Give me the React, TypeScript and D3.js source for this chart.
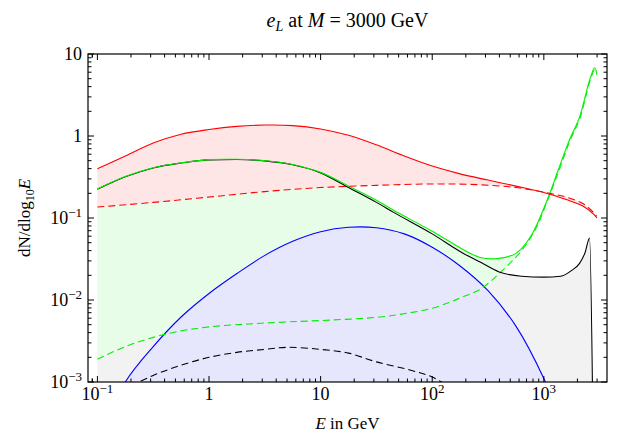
import React from 'react';
import * as d3 from 'd3';

const W = 618;
const H = 441;
const PLOT = { left: 88, right: 607, top: 54, bottom: 382 };

// log10(E/GeV) grids and dN/dlog10E values
const redSolidLogE = [-1, -0.75, -0.5, -0.25, 0, 0.25, 0.5, 0.75, 1.0, 1.25, 1.5, 1.75, 2.0, 2.25, 2.5, 2.75, 3.0, 3.2, 3.35, 3.45, 3.475];
const redSolidVal = [0.4, 0.57, 0.82, 1.05, 1.2, 1.31, 1.36, 1.34, 1.22, 1.02, 0.78, 0.57, 0.43, 0.345, 0.29, 0.245, 0.205, 0.168, 0.14, 0.11, 0.1];

const redDashedLogE = [-1, -0.5, 0, 0.5, 1.0, 1.5, 2.0, 2.4, 2.75, 3.05, 3.2, 3.35, 3.45, 3.475];
const redDashedVal = [0.136, 0.155, 0.18, 0.21, 0.235, 0.25, 0.26, 0.255, 0.235, 0.2, 0.18, 0.15, 0.115, 0.105];

const greenSolidLogE = [-1, -0.75, -0.5, -0.25, 0, 0.25, 0.5, 0.75, 1.0, 1.25, 1.5, 1.65, 2.0, 2.28, 2.43, 2.58, 2.75, 2.88, 3.03, 3.13, 3.23, 3.32, 3.41, 3.455, 3.475];
const greenSolidVal = [0.226, 0.32, 0.41, 0.47, 0.515, 0.52, 0.5, 0.45, 0.36, 0.245, 0.165, 0.125, 0.069, 0.041, 0.033, 0.032, 0.037, 0.059, 0.166, 0.39, 0.9, 1.7, 4.8, 6.8, 5.8];

const greenDashedLogE = [-1, -0.75, -0.5, -0.25, 0, 0.35, 0.7, 1.1, 1.53, 1.8, 1.98, 2.15, 2.28, 2.43, 2.63, 2.8, 2.93, 3.03, 3.13, 3.23, 3.32, 3.41, 3.455, 3.475];
const greenDashedVal = [0.0019, 0.0027, 0.0035, 0.0042, 0.0047, 0.0051, 0.0054, 0.0057, 0.0062, 0.007, 0.0078, 0.0093, 0.011, 0.0135, 0.023, 0.04, 0.075, 0.16, 0.36, 0.85, 1.6, 4.5, 6.4, 5.6];

const blackSolidLogE = [-1, -0.75, -0.5, -0.25, 0, 0.25, 0.5, 0.75, 1.0, 1.25, 1.5, 1.65, 2.0, 2.28, 2.43, 2.6, 2.8, 3.0, 3.15, 3.25, 3.32, 3.37, 3.41, 3.44];
const blackSolidVal = [0.224, 0.318, 0.408, 0.468, 0.512, 0.518, 0.497, 0.445, 0.355, 0.235, 0.155, 0.118, 0.064, 0.037, 0.029, 0.022, 0.0195, 0.019, 0.0195, 0.023, 0.028, 0.038, 0.057, 0.0003];

const blackDashedLogE = [-1, -0.75, -0.5, -0.25, 0, 0.25, 0.5, 0.7, 1.0, 1.25, 1.5, 1.8, 2.0, 2.2, 2.5, 3.0, 3.44];
const blackDashedVal = [0.0004, 0.0008, 0.0012, 0.0016, 0.002, 0.0023, 0.0025, 0.00265, 0.0025, 0.00225, 0.00176, 0.0014, 0.00115, 0.0008, 0.0005, 0.0002, 0.0001];

const blueSolidLogE = [-1, -0.75, -0.5, -0.25, 0, 0.25, 0.5, 0.75, 1.0, 1.25, 1.5, 1.75, 2.0, 2.25, 2.5, 2.75, 3.0, 3.1];
const blueSolidVal = [0.0002, 0.001, 0.0027, 0.0062, 0.012, 0.021, 0.035, 0.052, 0.068, 0.077, 0.076, 0.064, 0.044, 0.026, 0.013, 0.0048, 0.0011, 0.0005];

const xMajorTicks = [0.1, 1, 10, 100, 1000];
const xMajorLabels = [['10', '−1'], ['1', ''], ['10', ''], ['10', '2'], ['10', '3']];
const yMajorTicks = [0.001, 0.01, 0.1, 1, 10];
const yMajorLabels = [['10', '−3'], ['10', '−2'], ['10', '−1'], ['1', ''], ['10', '']];

const FONT = "'Liberation Serif', 'Times New Roman', serif";

export default function App() {
  const x = d3.scaleLog().domain([Math.pow(10, -1.0842), Math.pow(10, 3.566)]).range([PLOT.left, PLOT.right]);
  const y = d3.scaleLog().domain([1e-3, 10]).range([PLOT.bottom, PLOT.top]);
  const smooth = d3.line<[number, number]>().curve(d3.curveCatmullRom.alpha(0.5));
  const mono = d3.line<[number, number]>().curve(d3.curveMonotoneX);
  const straight = d3.line<[number, number]>();

  const pts = (ls: number[], vs: number[]): [number, number][] =>
    ls.map((l, i) => [x(Math.pow(10, l)), y(vs[i])] as [number, number]);

  const band = (a: [number, number][], ga: any, b: [number, number][], gb: any) => {
    const d1 = ga(a) || '';
    const d2 = (gb([...b].reverse()) || '').replace(/^M/, 'L');
    return d1 + d2 + 'Z';
  };

  const red = pts(redSolidLogE, redSolidVal);
  const redD = pts(redDashedLogE, redDashedVal);
  const green = pts(greenSolidLogE, greenSolidVal);
  const greenD = pts(greenDashedLogE, greenDashedVal);
  const black = pts(blackSolidLogE, blackSolidVal);
  const blackD = pts(blackDashedLogE, blackDashedVal);
  const blue = pts(blueSolidLogE, blueSolidVal);
  const blueBottom: [number, number][] = [
    [blue[0][0], PLOT.bottom + 20],
    [blue[blue.length - 1][0], PLOT.bottom + 20],
  ];

  const xMinor: number[] = [];
  for (let p = -2; p <= 3; p++) {
    for (let k = 2; k <= 9; k++) {
      const v = k * Math.pow(10, p);
      if (v >= x.domain()[0] && v <= x.domain()[1]) xMinor.push(v);
    }
  }
  xMinor.push(0.09);
  const yMinor: number[] = [];
  for (let p = -3; p <= 0; p++) {
    for (let k = 2; k <= 9; k++) yMinor.push(k * Math.pow(10, p));
  }

  const majL = 6;
  const minL = 3.5;
  const GREEN = '#00f000';

  return (
    <svg width={W} height={H} style={{ position: 'absolute', left: 0, top: 0, background: '#fff' }}>
      <defs>
        <clipPath id="plotclip">
          <rect x={PLOT.left} y={PLOT.top} width={PLOT.right - PLOT.left} height={PLOT.bottom - PLOT.top} />
        </clipPath>
      </defs>
      <rect x={0} y={0} width={W} height={H} fill="#fff" />
      <g clipPath="url(#plotclip)">
        <path d={band(black, mono, blackD, smooth)} fill="#f2f2f2" stroke="none" />
        <path d={band(green, smooth, greenD, smooth)} fill="#e8fde8" stroke="none" />
        <path d={band(blue, smooth, blueBottom, straight)} fill="#e6e6fc" stroke="none" />
        <path d={band(red, smooth, redD, smooth)} fill="#ffe6e6" stroke="none" />

        <path d={smooth(blackD) || ''} fill="none" stroke="#000" strokeWidth={1.1} strokeDasharray="7,4" />
        <path d={smooth(blue) || ''} fill="none" stroke="#0000ff" strokeWidth={1.1} />
        <path d={smooth(greenD) || ''} fill="none" stroke={GREEN} strokeWidth={1.1} strokeDasharray="7,4" />
        <path d={mono(black) || ''} fill="none" stroke="#000" strokeWidth={1.1} />
        <path d={smooth(green) || ''} fill="none" stroke={GREEN} strokeWidth={1.1} />
        <path d={smooth(redD) || ''} fill="none" stroke="#ff0000" strokeWidth={1.1} strokeDasharray="7,4" />
        <path d={smooth(red) || ''} fill="none" stroke="#ff0000" strokeWidth={1.1} />
      </g>

      {/* frame */}
      <rect x={PLOT.left} y={PLOT.top} width={PLOT.right - PLOT.left} height={PLOT.bottom - PLOT.top}
        fill="none" stroke="#000" strokeWidth={1.2} />

      {/* x ticks */}
      {xMajorTicks.map((t, i) => (
        <g key={'xM' + i}>
          <line x1={x(t)} x2={x(t)} y1={PLOT.bottom} y2={PLOT.bottom - majL} stroke="#000" />
          <line x1={x(t)} x2={x(t)} y1={PLOT.top} y2={PLOT.top + majL} stroke="#000" />
        </g>
      ))}
      {xMinor.map((t, i) => (
        <g key={'xm' + i}>
          <line x1={x(t)} x2={x(t)} y1={PLOT.bottom} y2={PLOT.bottom - minL} stroke="#000" />
          <line x1={x(t)} x2={x(t)} y1={PLOT.top} y2={PLOT.top + minL} stroke="#000" />
        </g>
      ))}
      {/* y ticks */}
      {yMajorTicks.map((t, i) => (
        <g key={'yM' + i}>
          <line x1={PLOT.left} x2={PLOT.left + majL} y1={y(t)} y2={y(t)} stroke="#000" />
          <line x1={PLOT.right} x2={PLOT.right - majL} y1={y(t)} y2={y(t)} stroke="#000" />
        </g>
      ))}
      {yMinor.map((t, i) => (
        <g key={'ym' + i}>
          <line x1={PLOT.left} x2={PLOT.left + minL} y1={y(t)} y2={y(t)} stroke="#000" />
          <line x1={PLOT.right} x2={PLOT.right - minL} y1={y(t)} y2={y(t)} stroke="#000" />
        </g>
      ))}

      {/* x tick labels */}
      {xMajorTicks.map((t, i) => (
        <text key={'xl' + i} x={x(t)} y={400} textAnchor="middle" fontFamily={FONT} fontSize={18} fill="#000">
          <tspan>{xMajorLabels[i][0]}</tspan>
          {xMajorLabels[i][1] && (
            <tspan fontSize={13} dy={-7}>{xMajorLabels[i][1]}</tspan>
          )}
        </text>
      ))}
      {/* y tick labels */}
      {yMajorTicks.map((t, i) => (
        <text key={'yl' + i} x={82} y={y(t) + 6} textAnchor="end" fontFamily={FONT} fontSize={18} fill="#000">
          <tspan>{yMajorLabels[i][0]}</tspan>
          {yMajorLabels[i][1] && (
            <tspan fontSize={13} dy={-7}>{yMajorLabels[i][1]}</tspan>
          )}
        </text>
      ))}

      {/* title */}
      <text x={(PLOT.left + PLOT.right) / 2} y={27} textAnchor="middle" fontFamily={FONT} fontSize={20} fill="#000">
        <tspan fontStyle="italic">e</tspan>
        <tspan fontStyle="italic" fontSize={14} dy={4}>L</tspan>
        <tspan dy={-4}> at </tspan>
        <tspan fontStyle="italic">M</tspan>
        <tspan> = 3000 GeV</tspan>
      </text>

      {/* x axis title */}
      <text x={(PLOT.left + PLOT.right) / 2} y={429} textAnchor="middle" fontFamily={FONT} fontSize={17} fill="#000">
        <tspan fontStyle="italic">E</tspan>
        <tspan> in GeV</tspan>
      </text>

      {/* y axis title */}
      <text transform={`translate(30, ${(PLOT.top + PLOT.bottom) / 2}) rotate(-90)`} textAnchor="middle"
        fontFamily={FONT} fontSize={17} fill="#000">
        <tspan>dN/dlog</tspan>
        <tspan fontSize={12} dy={4}>10</tspan>
        <tspan fontStyle="italic" dy={-4}>E</tspan>
      </text>
    </svg>
  );
}
